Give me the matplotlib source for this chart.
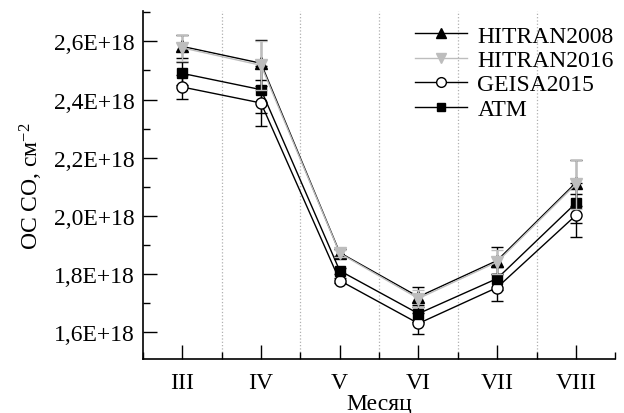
import numpy as np
import matplotlib.pyplot as plt
from matplotlib.lines import Line2D
from matplotlib.ticker import MultipleLocator, FuncFormatter

plt.rcParams['font.family'] = ['Liberation Serif', 'DejaVu Serif']
plt.rcParams['mathtext.fontset'] = 'custom'
plt.rcParams['mathtext.rm'] = 'Liberation Serif'
plt.rcParams['mathtext.it'] = 'Liberation Serif:italic'

months = ['III', 'IV', 'V', 'VI', 'VII', 'VIII']

# ОС CO, единицы 1E+18 см^-2
hitran2008 = [2.583, 2.525, 1.872, 1.720, 1.845, 2.113]
hitran2016 = [2.578, 2.518, 1.870, 1.714, 1.840, 2.108]
geisa2015 = [2.443, 2.388, 1.776, 1.628, 1.752, 2.001]
atm = [2.490, 2.434, 1.810, 1.662, 1.783, 2.043]

err_h2008 = [0.040, 0.080, 0.012, 0.035, 0.045, 0.080]
err_h2016 = [0.045, 0.085, 0.012, 0.030, 0.040, 0.085]
err_geisa = [0.040, 0.080, 0.010, 0.035, 0.045, 0.075]
err_atm = [0.040, 0.080, 0.010, 0.030, 0.040, 0.070]

scale = 1e18
x = np.arange(len(months))

fig = plt.figure(figsize=(6.24, 4.14), dpi=100)
ax = fig.add_axes([0.229, 0.130, 0.757, 0.841])

# вертикальные пунктирные разделители
for xv in np.arange(0.5, len(months) - 1, 1.0):
    ax.axvline(xv, color='#b0b0b0', linestyle=':', linewidth=0.9, zorder=0)

handles = []
def series(y, err, color, ecolor, marker, mfc, ms, label, z):
    ax.errorbar(x, np.array(y) * scale, yerr=np.array(err) * scale,
                color=color, ecolor=ecolor, marker=marker, mfc=mfc, mec=color,
                ms=ms, lw=1.0, elinewidth=1.0, capsize=4, capthick=1.0,
                zorder=z)
    handles.append(Line2D([], [], color=color, marker=marker, mfc=mfc,
                          mec=color, ms=ms - 1, lw=1.0, label=label))

series(hitran2008, err_h2008, 'black', 'black', '^', 'black', 8, 'HITRAN2008', 3)
series(hitran2016, err_h2016, '#bdbdbd', '#bdbdbd', 'v', '#bdbdbd', 8, 'HITRAN2016', 4)
series(geisa2015, err_geisa, 'black', 'black', 'o', 'white', 8, 'GEISA2015', 3)
series(atm, err_atm, 'black', 'black', 's', 'black', 7, 'ATM', 3)

ax.set_xlim(-0.5, len(months) - 0.5)
ax.set_ylim(1.505e18, 2.705e18)
ax.set_xticks(x)
ax.set_xticklabels(months)
ax.xaxis.set_minor_locator(MultipleLocator(1.0, offset=0.5))
ax.yaxis.set_major_locator(MultipleLocator(0.2e18))
ax.yaxis.set_minor_locator(MultipleLocator(0.1e18))
ax.yaxis.set_major_formatter(FuncFormatter(
    lambda v, p: ('%.1fE+18' % (v / scale)).replace('.', ',')))
ax.yaxis.get_offset_text().set_visible(False)

ax.tick_params(which='both', direction='in', labelsize=17, width=1.0)
ax.tick_params(which='major', length=10)
ax.tick_params(axis='y', which='major', pad=6)
ax.tick_params(axis='x', which='major', pad=9)
ax.tick_params(which='minor', length=5)
ax.tick_params(axis='x', which='both', top=False)
ax.tick_params(axis='y', which='both', right=False)

ax.spines['top'].set_visible(False)
ax.spines['right'].set_visible(False)
for s in ('left', 'bottom'):
    ax.spines[s].set_linewidth(1.2)

ax.set_xlabel('Месяц', fontsize=17, labelpad=0)
ax.set_ylabel('ОС СО, см$^{-2}$', fontsize=17, labelpad=6)

ax.legend(handles=handles, loc='upper right', bbox_to_anchor=(1.027, 1.0),
          frameon=False, prop={'family': 'Liberation Serif', 'size': 17},
          handlelength=2.2, handletextpad=0.45, labelspacing=0.12,
          borderaxespad=0.2)

fig.savefig('out.png', dpi=100)
